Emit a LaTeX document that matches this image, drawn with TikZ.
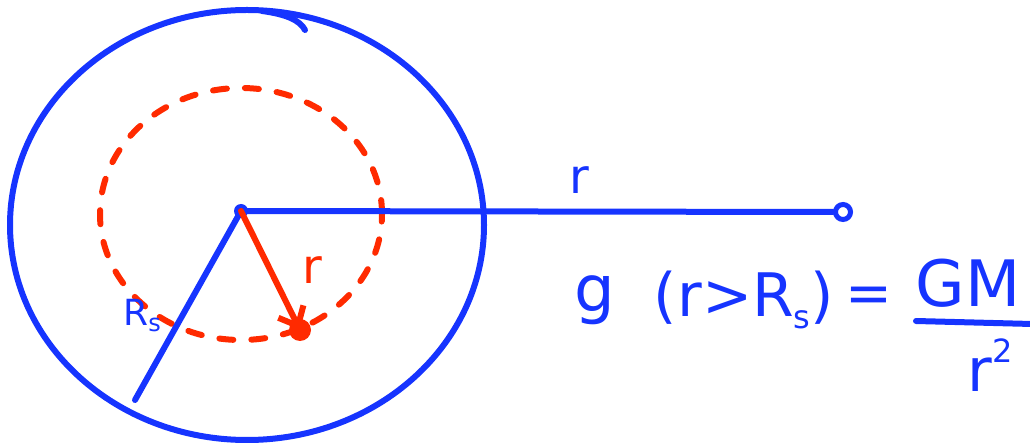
\documentclass[tikz,border=0pt]{standalone}
\usepackage{fontspec}
\setmainfont{DejaVu Sans}
\usetikzlibrary{arrows.meta}
\definecolor{pen}{RGB}{22,52,255}
\definecolor{redpen}{RGB}{255,42,0}
\tikzset{
  stroke/.style={draw=pen, line width=6pt, line cap=round, line join=round},
  redstroke/.style={draw=redpen, line width=6pt, line cap=round},
  hand/.style={text=pen, inner sep=0pt},
}
\begin{document}
\begin{tikzpicture}[x=1pt,y=-1pt]
\useasboundingbox (0,0) rectangle (1030,443);
% big circle
\draw[stroke] (247,225) ellipse [x radius=237pt, y radius=215pt];
\draw[stroke] (262,11) .. controls (285,14) and (300,20) .. (305,30);
% red dashed circle
\draw[redstroke, dash pattern=on 14pt off 18pt] (241,214) ellipse [x radius=141pt, y radius=126pt];
% centre and lines
\node[circle, fill=pen, inner sep=0pt, minimum size=14pt] (c) at (241,211) {};
\node[circle, draw=pen, line width=5pt, inner sep=0pt, minimum size=15pt] (e) at (843,212) {};
\coordinate (rs) at (135,400);
\draw[stroke] (c.center) -- (e.west);
\draw[stroke] (c.center) -- (rs);
% red arrow
\node[circle, fill=redpen, inner sep=0pt, minimum size=22pt] (m) at (300,330) {};
\draw[redstroke, -{Straight Barb[length=16pt,width=28pt]}] (c.center) -- (m.center);
% labels
\node[hand, font=\fontsize{48}{54}\selectfont] (lr) at (579,180) {r};
\node[text=redpen, inner sep=0pt, font=\fontsize{48}{54}\selectfont] (lr2) at (312,270) {r};
\node[hand, font=\fontsize{36}{40}\selectfont] (lrs) at (142,316) {R\raisebox{-0.3ex}{\fontsize{24}{26}\selectfont s}};
% formula
\node[hand, font=\fontsize{64}{70}\selectfont] (g) at (595,300) {g};
\node[hand, font=\fontsize{60}{66}\selectfont] (cond) at (744,300) {(r>R\raisebox{-0.35ex}{\fontsize{32}{34}\selectfont s})};
\node[hand, font=\fontsize{56}{60}\selectfont] (eq) at (869,300) {=};
\node[hand, font=\fontsize{64}{70}\selectfont] (gm) at (968,283) {GM};
\coordinate (b1) at (916,321);
\coordinate (b2) at (1032,324);
\draw[stroke] (b1) -- (b2);
\node[hand, font=\fontsize{60}{66}\selectfont] (r2) at (990,365) {r\raisebox{0.9ex}{\fontsize{32}{34}\selectfont 2}};
\end{tikzpicture}
\end{document}
